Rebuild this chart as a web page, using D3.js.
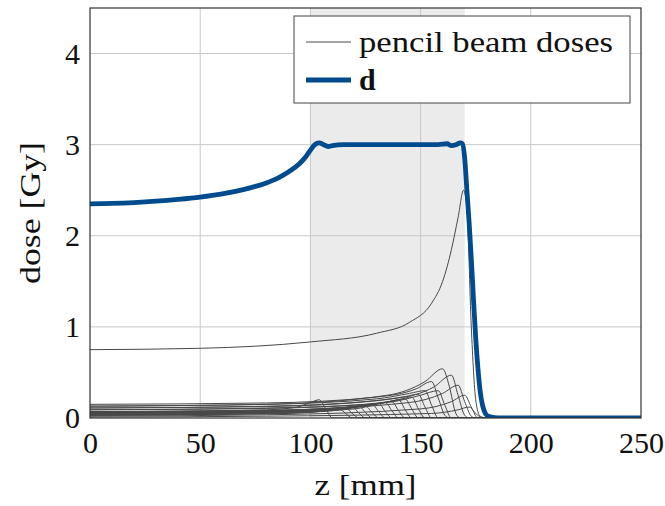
<!DOCTYPE html>
<html>
<head>
<meta charset="utf-8">
<script src="https://cdn.jsdelivr.net/npm/d3@7"></script>
<style>
    body { margin: 0; background: #fff; }
    text { font-family: "Liberation Serif", "DejaVu Serif", serif; fill: #111; }
</style>
</head>
<body>
<svg id="chart" width="665" height="506"></svg>
<script>
// axis setup
const xTicks = [0, 50, 100, 150, 200, 250];
const yTicks = [0, 1, 2, 3, 4];
const xDomain = [0, 250];
const yDomain = [0, 4.5];
const targetRange = [100, 170];

// total dose d (z in mm, dose in Gy)
const doseZ = [0, 10, 20, 30, 40, 50, 60, 70, 80, 85, 90, 95, 98, 100, 102, 104, 106, 108, 110, 115, 130, 145, 158, 162, 164, 166, 168, 169, 170, 171, 172, 173, 174, 175, 176, 177, 178, 179, 180, 182, 185, 250];
const doseD = [2.35, 2.355, 2.365, 2.38, 2.40, 2.425, 2.46, 2.51, 2.58, 2.63, 2.70, 2.79, 2.87, 2.94, 3.0, 3.02, 3.0, 2.98, 2.99, 3.0, 3.0, 3.0, 3.0, 3.01, 2.99, 3.0, 3.02, 3.01, 2.85, 2.5, 2.15, 1.75, 1.3, 0.88, 0.55, 0.3, 0.15, 0.07, 0.03, 0.01, 0, 0];

// single pencil beam doses, [z, dose] pairs
const beamBig = [[0, .75], [50, .765], [100, .835], [130, .93], [145, 1.05], [155, 1.26], [160, 1.5], [164, 1.85], [167, 2.2], [169.5, 2.5], [171, 2.3], [173, 1.0], [175, .2], [177, .02], [180, 0], [250, 0]];
const beam01 = [[0, .07], [80, .09], [94, .12], [100, .17], [104, .20], [107, .10], [110, 0], [250, 0]];
const beam02 = [[0, .03], [80, .045], [100, .06], [108, .085], [113, .10], [116, .05], [119, 0], [250, 0]];
const beam03 = [[0, .05], [80, .065], [100, .08], [110, .095], [116, .11], [119, .05], [122, 0], [250, 0]];
const beam04 = [[0, .04], [80, .055], [105, .075], [113, .10], [119, .12], [122, .055], [125, 0], [250, 0]];
const beam05 = [[0, .06], [80, .075], [105, .095], [116, .115], [122, .13], [125, .06], [128, 0], [250, 0]];
const beam06 = [[0, .03], [80, .05], [110, .08], [119, .11], [125, .13], [128, .06], [131, 0], [250, 0]];
const beam07 = [[0, .05], [80, .07], [110, .10], [122, .13], [128, .15], [131, .07], [134, 0], [250, 0]];
const beam08 = [[0, .04], [80, .06], [115, .10], [125, .135], [131, .16], [134, .07], [137, 0], [250, 0]];
const beam09 = [[0, .06], [80, .08], [115, .115], [128, .15], [134, .17], [137, .08], [140, 0], [250, 0]];
const beam10 = [[0, .03], [80, .055], [120, .10], [131, .155], [137, .18], [140, .08], [143, 0], [250, 0]];
const beam11 = [[0, .05], [80, .07], [120, .12], [134, .17], [140, .20], [143, .09], [146, 0], [250, 0]];
const beam12 = [[0, .09], [80, .11], [125, .15], [137, .185], [143, .21], [146, .10], [149, 0], [250, 0]];
const beam13 = [[0, .06], [80, .08], [125, .14], [140, .20], [146, .23], [149, .10], [152, 0], [250, 0]];
const beam14 = [[0, .11], [80, .13], [130, .19], [143, .235], [149, .26], [152, .12], [155, 0], [250, 0]];
const beam15 = [[0, .13], [80, .15], [130, .21], [145, .27], [152, .30], [155, .14], [158, 0], [250, 0]];
const beam16 = [[0, .15], [80, .165], [130, .23], [148, .32], [155, .40], [158, .22], [161, .03], [163, 0], [250, 0]];
const beam17 = [[0, .09], [80, .105], [135, .17], [150, .25], [158, .30], [161, .14], [164, 0], [250, 0]];
const beam18 = [[0, .13], [80, .15], [135, .25], [152, .40], [160, .54], [163, .35], [166, .05], [168, 0], [250, 0]];
const beam19 = [[0, .11], [80, .125], [140, .22], [156, .34], [164, .47], [167, .25], [170, .03], [172, 0], [250, 0]];
const beam20 = [[0, .07], [80, .085], [145, .17], [160, .27], [167, .36], [170, .18], [173, .02], [175, 0], [250, 0]];
const beam21 = [[0, .02], [80, .035], [150, .10], [164, .18], [170, .25], [173, .12], [176, 0], [250, 0]];
const beam22 = [[0, .01], [80, .02], [155, .05], [167, .09], [172, .12], [175, .05], [178, 0], [250, 0]];

const beams = [beamBig, beam01, beam02, beam03, beam04, beam05, beam06, beam07, beam08, beam09, beam10, beam11,
    beam12, beam13, beam14, beam15, beam16, beam17, beam18, beam19, beam20, beam21, beam22];

const BLUE = "#004b8d";
const BEAM_COLOR = "#484848";
const FONT_SIZE = "30px";

const svg = d3.select("#chart"),
    margin = { top: 8, right: 24, bottom: 88, left: 90 },
    width = +svg.attr("width") - margin.left - margin.right,
    height = +svg.attr("height") - margin.top - margin.bottom,
    g = svg.append("g").attr("transform", `translate(${margin.left},${margin.top})`);

const x = d3.scaleLinear().domain(xDomain).range([0, width]);
const y = d3.scaleLinear().domain(yDomain).range([height, 0]);

svg.append("defs")
    .append("clipPath")
    .attr("id", "plot-clip")
    .append("rect")
    .attr("width", width)
    .attr("height", height);

// target region
g.append("rect")
    .attr("x", x(targetRange[0]))
    .attr("y", 0)
    .attr("width", x(targetRange[1]) - x(targetRange[0]))
    .attr("height", height)
    .attr("fill", "#ebebeb");

// grid
g.append("g")
    .selectAll("line")
    .data(xTicks.slice(1, -1))
    .enter()
    .append("line")
    .attr("x1", d => x(d))
    .attr("x2", d => x(d))
    .attr("y1", 0)
    .attr("y2", height)
    .attr("stroke", "#c8c8c8")
    .attr("stroke-width", 1);

g.append("g")
    .selectAll("line")
    .data(yTicks.slice(1))
    .enter()
    .append("line")
    .attr("x1", 0)
    .attr("x2", width)
    .attr("y1", d => y(d))
    .attr("y2", d => y(d))
    .attr("stroke", "#c8c8c8")
    .attr("stroke-width", 1);

const plot = g.append("g").attr("clip-path", "url(#plot-clip)");

const beamLine = d3
    .line()
    .x(d => x(d[0]))
    .y(d => y(d[1]))
    .curve(d3.curveMonotoneX);

plot.selectAll(".beam")
    .data(beams)
    .enter()
    .append("path")
    .attr("class", "beam")
    .attr("d", d => beamLine(d))
    .attr("fill", "none")
    .attr("stroke", BEAM_COLOR)
    .attr("stroke-width", 1);

const doseLine = d3
    .line()
    .x(i => x(doseZ[i]))
    .y(i => y(doseD[i]))
    .curve(d3.curveMonotoneX);

plot.append("path")
    .attr("d", doseLine(d3.range(doseZ.length)))
    .attr("fill", "none")
    .attr("stroke", BLUE)
    .attr("stroke-width", 4.8)
    .attr("stroke-linejoin", "round");

// frame
g.append("rect")
    .attr("width", width)
    .attr("height", height)
    .attr("fill", "none")
    .attr("stroke", "#333")
    .attr("stroke-width", 1.2);

// axes
const xAxis = g.append("g")
    .attr("transform", `translate(0,${height})`)
    .call(d3.axisBottom(x).tickValues(xTicks).tickFormat(d3.format("d")).tickSize(0).tickPadding(12));
const yAxis = g.append("g")
    .call(d3.axisLeft(y).tickValues(yTicks).tickFormat(d3.format("d")).tickSize(0).tickPadding(10));

[xAxis, yAxis].forEach(a => {
    a.attr("font-family", null).attr("font-size", null);
    a.select(".domain").remove();
    a.selectAll("text")
        .style("font-size", FONT_SIZE)
        .attr("fill", "#111");
});
xAxis.selectAll("text").attr("dy", "0.75em");

// axis labels, stretched a bit to match the wider original face
svg.append("text")
    .attr("x", margin.left + width / 2)
    .attr("y", 495)
    .attr("text-anchor", "middle")
    .attr("textLength", 102)
    .attr("lengthAdjust", "spacingAndGlyphs")
    .style("font-size", FONT_SIZE)
    .text("z [mm]");

svg.append("text")
    .attr("transform", `translate(40,${margin.top + height / 2}) rotate(-90)`)
    .attr("text-anchor", "middle")
    .attr("textLength", 142)
    .attr("lengthAdjust", "spacingAndGlyphs")
    .style("font-size", FONT_SIZE)
    .text("dose [Gy]");

// legend
const legend = svg.append("g").attr("transform", "translate(294,16)");
legend.append("rect")
    .attr("width", 336)
    .attr("height", 87)
    .attr("fill", "#fff")
    .attr("stroke", "#444")
    .attr("stroke-width", 1);

const legendItems = [
    { label: "pencil beam doses", color: BEAM_COLOR, width: 1, bold: false, len: 254 },
    { label: "d", color: BLUE, width: 4.8, bold: true, len: null }
];

const item = legend.selectAll(".item")
    .data(legendItems)
    .enter()
    .append("g")
    .attr("class", "item")
    .attr("transform", (d, i) => `translate(0,${26 + i * 38})`);

item.append("line")
    .attr("x1", 12)
    .attr("x2", 57)
    .attr("stroke", d => d.color)
    .attr("stroke-width", d => d.width);

item.append("text")
    .attr("x", 65)
    .attr("dy", "0.33em")
    .attr("textLength", d => d.len)
    .attr("lengthAdjust", "spacingAndGlyphs")
    .style("font-size", FONT_SIZE)
    .style("font-weight", d => (d.bold ? "bold" : "normal"))
    .text(d => d.label);
</script>
</body>
</html>
